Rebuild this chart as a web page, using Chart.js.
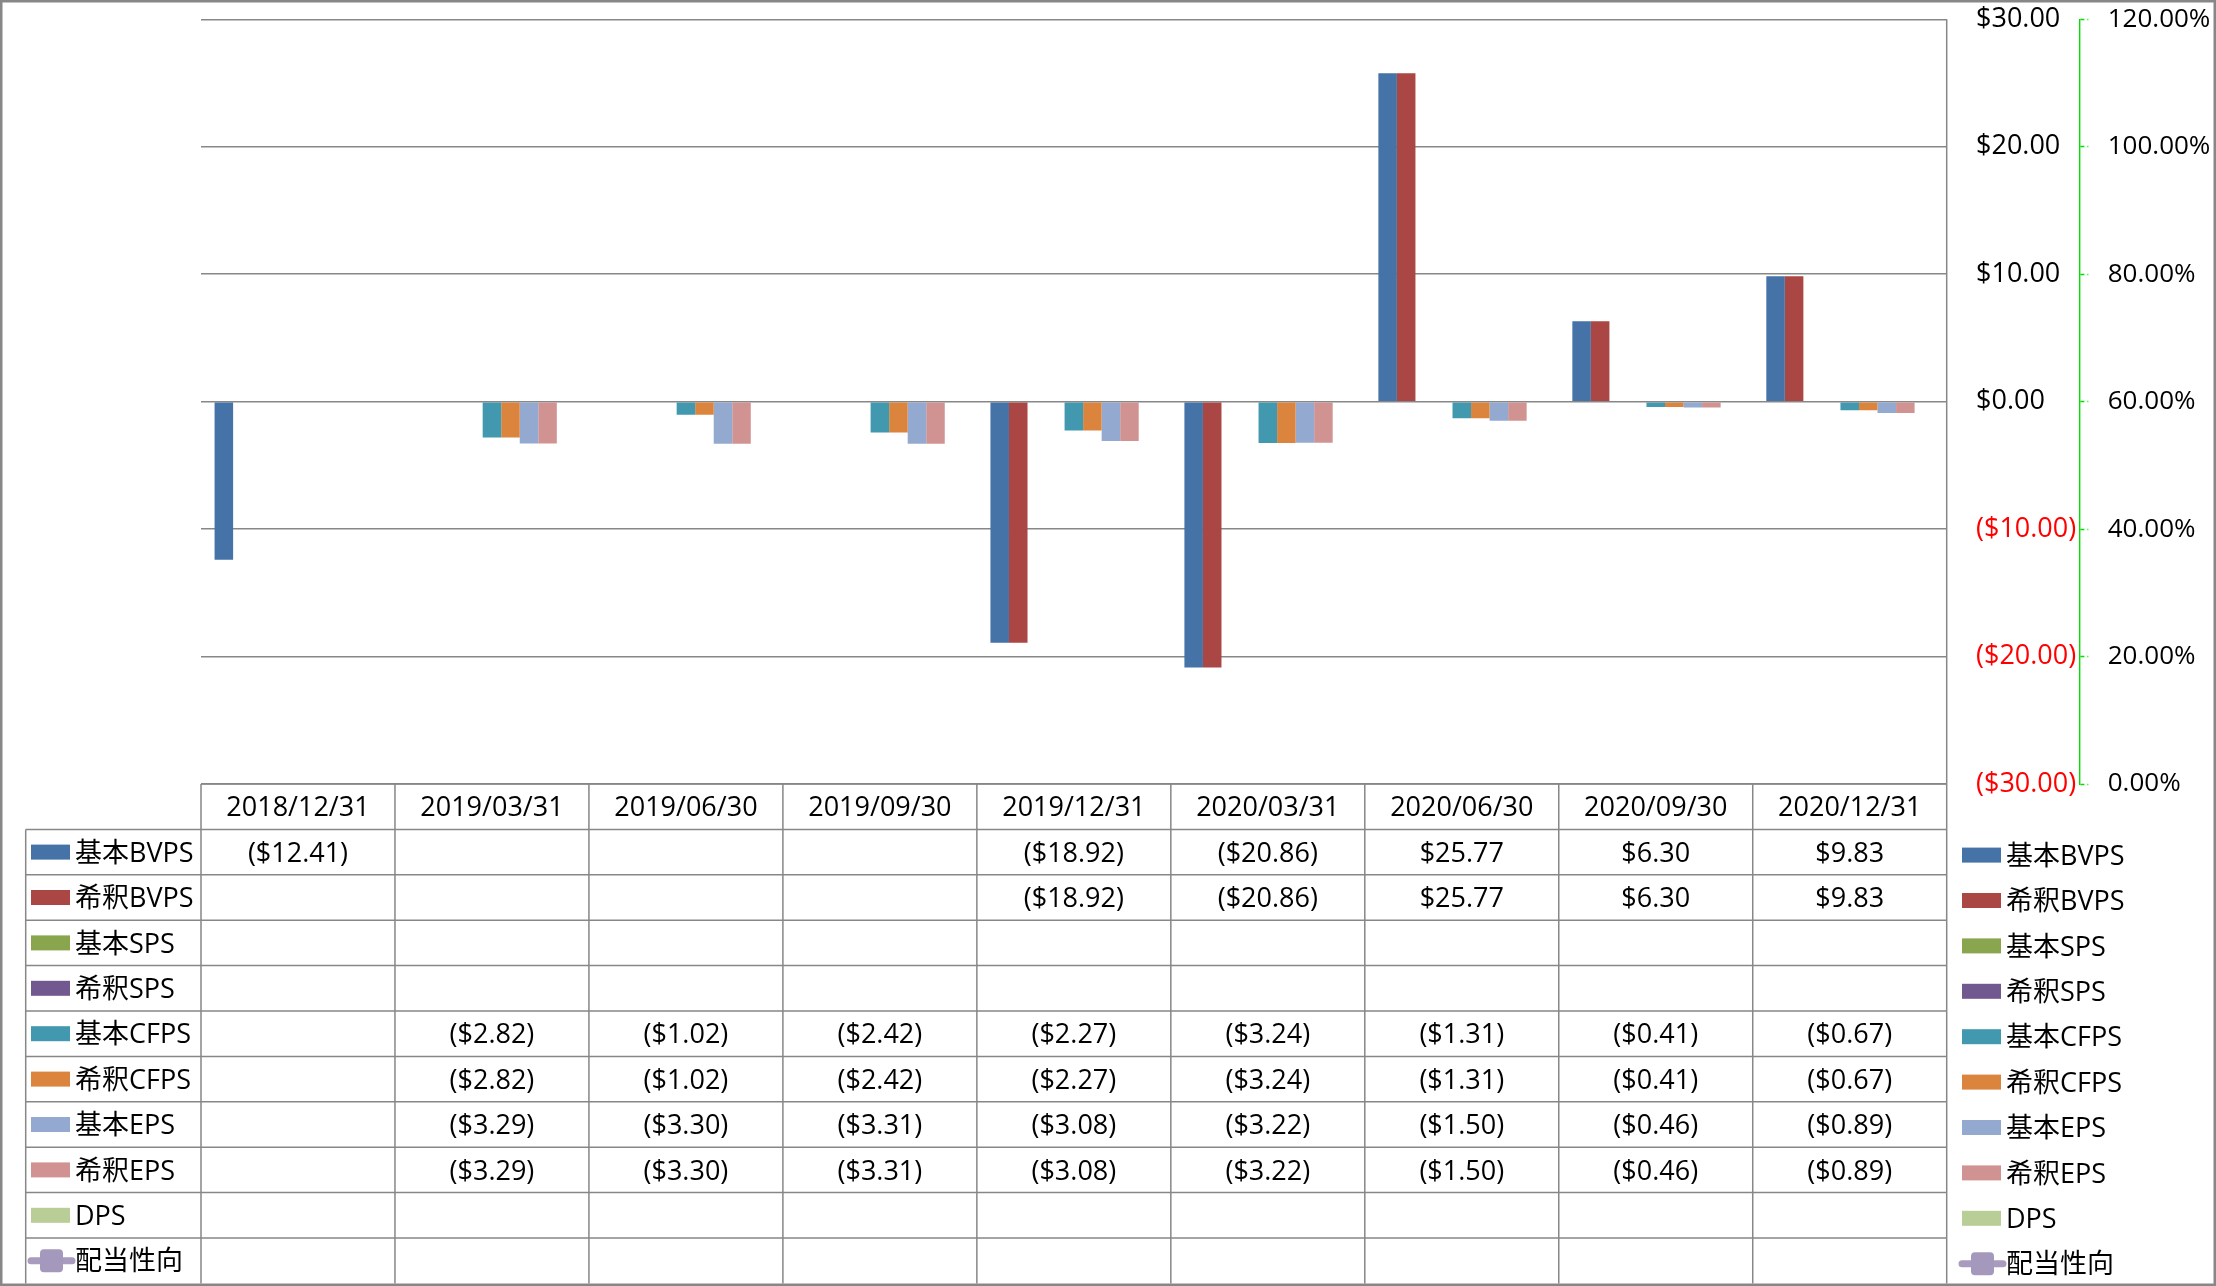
<!DOCTYPE html>
<html>
<head>
<meta charset="utf-8">
<script src="https://cdn.jsdelivr.net/npm/chart.js@4.4.1/dist/chart.umd.min.js"></script>
<style>
  html, body { margin: 0; padding: 0; background: #fff; }
  #wrap { width: 2216px; height: 1286px; position: relative; }
</style>
</head>
<body>
<div id="wrap"><canvas id="myChart"></canvas></div>
<script>
// categories
var dates = ["2018/12/31", "2019/03/31", "2019/06/30", "2019/09/30", "2019/12/31",
             "2020/03/31", "2020/06/30", "2020/09/30", "2020/12/31"];

// series values (per share, $)
var basicBVPS   = [-12.41, null, null, null, -18.92, -20.86, 25.77, 6.30, 9.83];
var dilutedBVPS = [null, null, null, null, -18.92, -20.86, 25.77, 6.30, 9.83];
var basicSPS    = [null, null, null, null, null, null, null, null, null];
var dilutedSPS  = [null, null, null, null, null, null, null, null, null];
var basicCFPS   = [null, -2.82, -1.02, -2.42, -2.27, -3.24, -1.31, -0.41, -0.67];
var dilutedCFPS = [null, -2.82, -1.02, -2.42, -2.27, -3.24, -1.31, -0.41, -0.67];
var basicEPS    = [null, -3.29, -3.30, -3.31, -3.08, -3.22, -1.50, -0.46, -0.89];
var dilutedEPS  = [null, -3.29, -3.30, -3.31, -3.08, -3.22, -1.50, -0.46, -0.89];
var dps         = [null, null, null, null, null, null, null, null, null];
var payoutRatio = [null, null, null, null, null, null, null, null, null];

// axis ranges [min, max, step]
var priceAxis = [-30, 30, 10];
var ratioAxis = [0, 120, 20];

var FONT = "'Open Sans', 'Noto Sans CJK JP', sans-serif";
var FSIZE = 27;
var GRID = "#878787";
var ROW_H = 45.4;

Chart.defaults.font.family = FONT;
Chart.defaults.font.size = FSIZE;
Chart.defaults.color = "#000";

function money(v) {
  if (v === null || v === undefined) return "";
  return v < 0 ? "($" + Math.abs(v).toFixed(2) + ")" : "$" + v.toFixed(2);
}

var dataTable = {
  id: "dataTable",
  beforeDraw: function (chart) {
    var ctx = chart.ctx;
    ctx.save();
    ctx.fillStyle = "#fff";
    ctx.fillRect(0, 0, chart.width, chart.height);
    ctx.restore();
  },
  afterDraw: function (chart) {
    var ctx = chart.ctx;
    var area = chart.chartArea;
    var sets = chart.data.datasets;
    var top = area.bottom;
    var colW = (area.right - area.left) / dates.length;
    var bottom = top + ROW_H * (sets.length + 1);
    var legLeft = 25.7;

    ctx.save();
    ctx.strokeStyle = GRID;
    ctx.lineWidth = 1.5;

    // header line + row lines
    ctx.beginPath();
    ctx.moveTo(area.left, top);
    ctx.lineTo(area.right, top);
    for (var r = 1; r <= sets.length; r++) {
      var yy = top + ROW_H * r;
      ctx.moveTo(legLeft, yy);
      ctx.lineTo(area.right, yy);
    }
    // verticals
    for (var c = 0; c <= dates.length; c++) {
      var xx = area.left + colW * c;
      ctx.moveTo(xx, top);
      ctx.lineTo(xx, bottom);
    }
    ctx.moveTo(legLeft, top + ROW_H);
    ctx.lineTo(legLeft, bottom);
    // plot right border
    ctx.moveTo(area.right, area.top);
    ctx.lineTo(area.right, bottom);
    ctx.stroke();

    ctx.font = FSIZE + "px " + FONT;
    ctx.fillStyle = "#000";
    ctx.textBaseline = "middle";
    ctx.textAlign = "center";
    var xs = chart.scales.x;
    dates.forEach(function (d, i) {
      ctx.fillText(d, xs.getPixelForValue(i), top + ROW_H / 2 + 2);
    });

    sets.forEach(function (ds, k) {
      var cy = top + ROW_H * (k + 1) + ROW_H / 2;
      ctx.textAlign = "center";
      ctx.fillStyle = "#000";
      ds.data.forEach(function (v, i) {
        if (ds.type === "line") return;
        var t = money(v);
        if (t) ctx.fillText(t, xs.getPixelForValue(i), cy + 2);
      });
      drawKey(ctx, ds, 31, cy, 75);
      drawKey(ctx, ds, 1962, cy + 3, 2006);
    });

    // outer frame
    ctx.strokeStyle = GRID;
    ctx.lineWidth = 2.5;
    ctx.strokeRect(1.25, 1.25, chart.width - 2.5, chart.height - 2.5);
    ctx.restore();
  }
};

function drawKey(ctx, ds, x, cy, tx) {
  if (ds.type === "line") {
    ctx.strokeStyle = ds.borderColor;
    ctx.lineWidth = 7;
    ctx.lineCap = "round";
    ctx.beginPath();
    ctx.moveTo(x, cy);
    ctx.lineTo(x + 41, cy);
    ctx.stroke();
    ctx.fillStyle = ds.backgroundColor;
    ctx.beginPath();
    if (ctx.roundRect) ctx.roundRect(x + 9, cy - 11.5, 23, 23, 4);
    else ctx.rect(x + 9, cy - 11.5, 23, 23);
    ctx.fill();
  } else {
    ctx.fillStyle = ds.backgroundColor;
    ctx.fillRect(x, cy - 7.5, 39, 15);
  }
  ctx.fillStyle = "#000";
  ctx.textAlign = "left";
  ctx.fillText(ds.label, tx, cy + 2);
}

function fixWidth(w) {
  return function (s) {
    s.width = w;
    s.paddingTop = 0;
    s.paddingBottom = 0;
  };
}

new Chart("myChart", {
  type: "bar",
  data: {
    labels: dates,
    datasets: [
      { label: "基本BVPS", data: basicBVPS, backgroundColor: "#4572A7" },
      { label: "希釈BVPS", data: dilutedBVPS, backgroundColor: "#AA4643" },
      { label: "基本SPS", data: basicSPS, backgroundColor: "#89A54E" },
      { label: "希釈SPS", data: dilutedSPS, backgroundColor: "#71588F" },
      { label: "基本CFPS", data: basicCFPS, backgroundColor: "#4198AF" },
      { label: "希釈CFPS", data: dilutedCFPS, backgroundColor: "#DB843D" },
      { label: "基本EPS", data: basicEPS, backgroundColor: "#93A9CF" },
      { label: "希釈EPS", data: dilutedEPS, backgroundColor: "#D19392" },
      { label: "DPS", data: dps, backgroundColor: "#B9CD96" },
      {
        label: "配当性向",
        type: "line",
        data: payoutRatio,
        yAxisID: "y1",
        borderColor: "#A99BBD",
        backgroundColor: "#A598BD",
        pointStyle: "rectRounded",
      },
    ],
  },
  options: {
    responsive: true,
    maintainAspectRatio: false,
    animation: false,
    categoryPercentage: 0.86,
    barPercentage: 1.0,
    layout: { padding: { left: 201, top: 19.3, right: 3, bottom: 502 } },
    plugins: { legend: { display: false }, tooltip: { enabled: false } },
    scales: {
      x: { display: false },
      y: {
        position: "right",
        weight: 0,
        min: priceAxis[0],
        max: priceAxis[1],
        border: { display: false },
        grid: { color: GRID, lineWidth: 1.5, drawTicks: false },
        ticks: {
          stepSize: priceAxis[2],
          padding: 29.3,
          crossAlign: "near",
          color: function (c) { return c.tick.value < 0 ? "#ff0000" : "#000"; },
          callback: function (v) { return money(v); },
        },
        afterFit: fixWidth(132.6),
      },
      y1: {
        position: "right",
        weight: 1,
        min: ratioAxis[0],
        max: ratioAxis[1],
        border: { display: true, color: "#00e000", width: 1.4, dash: [4, 3] },
        grid: {
          drawOnChartArea: false,
          drawTicks: true,
          tickLength: 9,
          tickColor: "#00e000",
          tickWidth: 1.4,
          tickBorderDash: [4, 3],
        },
        ticks: {
          stepSize: ratioAxis[2],
          padding: 19.4,
          crossAlign: "near",
          font: { size: 26 },
          callback: function (v) { return v.toFixed(2) + "%"; },
        },
        afterFit: fixWidth(133.7),
      },
    },
  },
  plugins: [dataTable],
});
</script>
</body>
</html>
